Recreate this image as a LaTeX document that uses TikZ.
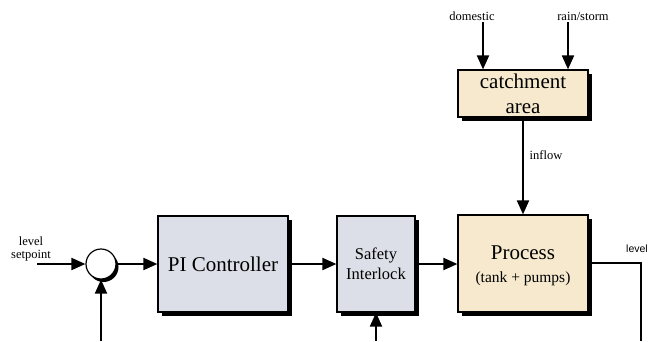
\documentclass[tikz,border=0pt]{standalone}
\usepackage{fontspec}
\setmainfont{Liberation Serif}
\newfontfamily\lblsans{Liberation Sans}
\usetikzlibrary{arrows.meta,shadows}
\definecolor{ctrlfill}{RGB}{220,223,232}
\definecolor{procfill}{RGB}{246,233,206}
\tikzset{
  blockbox/.style={draw=black, line width=1.2pt, inner sep=0pt, align=center,
    drop shadow={shadow xshift=3.5pt, shadow yshift=-3.5pt, fill=black, opacity=1}},
  ctrlbox/.style={blockbox, fill=ctrlfill},
  procbox/.style={blockbox, fill=procfill},
  sumnode/.style={circle, draw=black, line width=1.2pt, fill=white, minimum size=30pt, inner sep=0pt,
    drop shadow={shadow xshift=2.5pt, shadow yshift=-3pt, fill=black, opacity=1}},
  flow/.style={line width=2pt, -{Triangle[length=14pt,width=12pt]}},
  plainline/.style={line width=2pt},
  smalllbl/.style={font=\fontsize{12.5}{13.5}\selectfont, align=center, inner sep=0pt},
}
\begin{document}
\begin{tikzpicture}[x=1pt,y=-1pt]
\useasboundingbox (0,0) rectangle (656,341);
% nodes
\node[sumnode] (sum) at (101,264) {};
\node[ctrlbox, minimum width=130pt, minimum height=96pt, font=\fontsize{21}{24}\selectfont] (pi) at (223,264) {PI Controller};
\node[ctrlbox, minimum width=78pt, minimum height=96pt, font=\fontsize{16.5}{20}\selectfont] (safety) at (376,264) {Safety\\Interlock};
\node[procbox, minimum width=130pt, minimum height=97pt] (proc) at (523,263.5) {};
\node[font=\fontsize{21}{24}\selectfont, inner sep=0pt] (proct) at (523,253) {Process};
\node[font=\fontsize{15.5}{18}\selectfont, inner sep=0pt] (procs) at (523,279) {(tank + pumps)};
\node[procbox, minimum width=130pt, minimum height=47pt, font=\fontsize{21}{25}\selectfont] (catch) at (523,93.5) {catchment\\area};
% labels
\node[smalllbl] (splbl) at (31,249) {level\\setpoint};
\node[smalllbl] (domlbl) at (472,16) {domestic};
\node[smalllbl] (rainlbl) at (583,16) {rain/storm};
\node[smalllbl] (inflbl) at (546,155) {inflow};
\node[font=\lblsans\fontsize{10.5}{11}\selectfont, inner sep=0pt] (lvllbl) at (637,249) {level};
% free ends
\coordinate (spin) at (37,264);
\coordinate (fbin) at (101,341);
\coordinate (sfin) at (376,341);
\coordinate (domin) at (483,22);
\coordinate (rainin) at (568,22);
\coordinate (outc) at (641,263);
\coordinate (outd) at (641,341);
% connectors
\draw[flow] (spin) -- (sum.west);
\draw[flow] (fbin) -- (sum.south);
\draw[flow] (sum.east) -- (pi.west);
\draw[flow] (pi.east) -- (safety.west);
\draw[flow] (safety.east) -- (safety.east -| proc.west);
\draw[flow] (sfin) -- (safety.south);
\draw[flow] (domin) -- (domin |- catch.north);
\draw[flow] (rainin) -- (rainin |- catch.north);
\draw[flow] (catch.south) -- (proc.north);
\draw[plainline] (proc.east |- outc) -- (outc) -- (outd);
\end{tikzpicture}
\end{document}
